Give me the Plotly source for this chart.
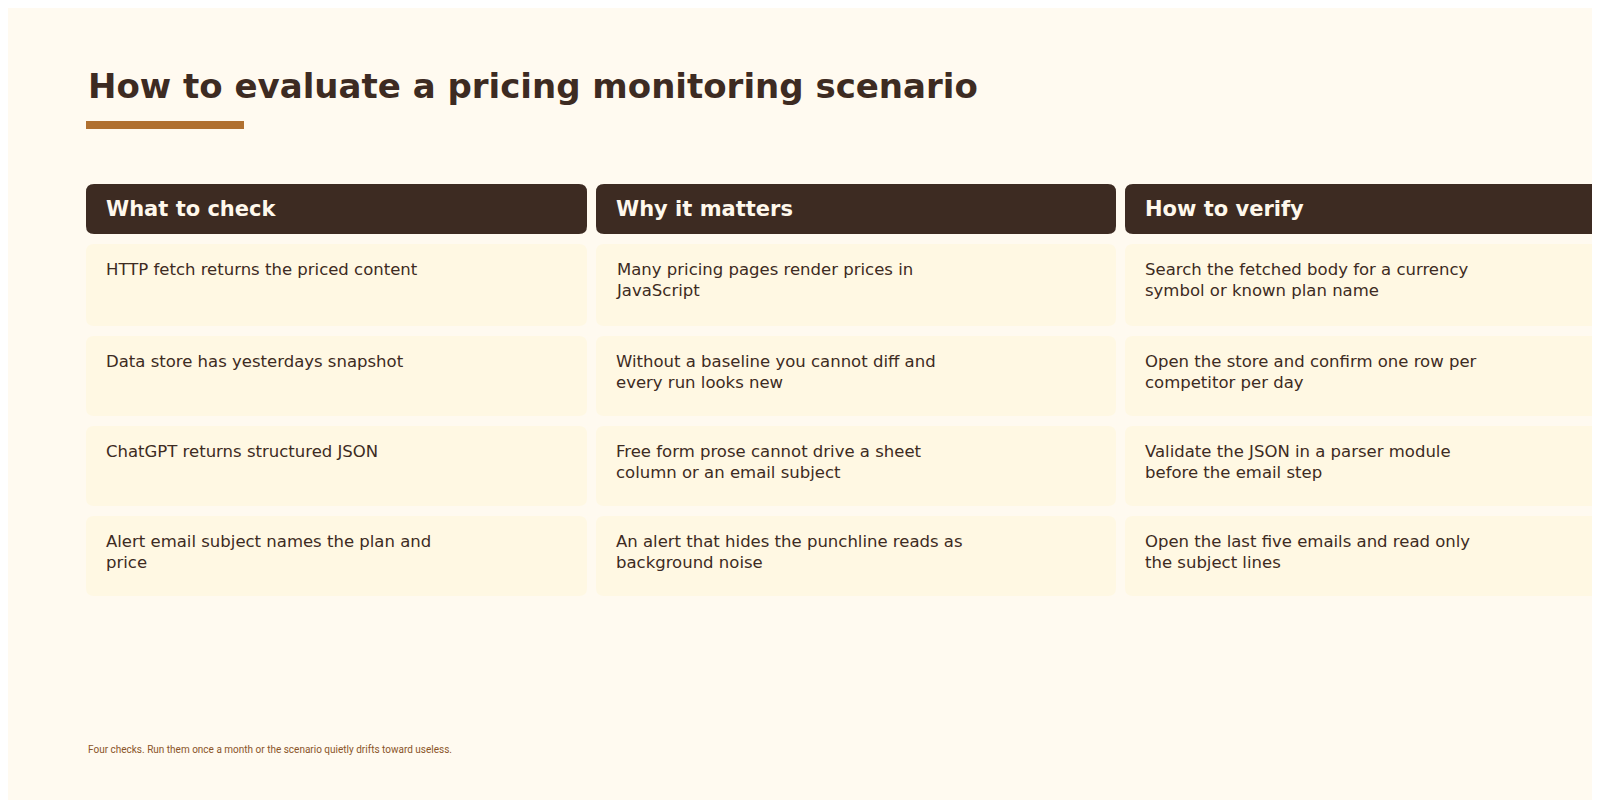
import plotly.graph_objects as go

title = "How to evaluate a pricing monitoring scenario"
headers = ["What to check", "Why it matters", "How to verify"]
col_what = ["HTTP fetch returns the priced content",
            "Data store has yesterdays snapshot",
            "ChatGPT returns structured JSON",
            "Alert email subject names the plan and<br>price"]
col_why = ["Many pricing pages render prices in<br>JavaScript",
           "Without a baseline you cannot diff and<br>every run looks new",
           "Free form prose cannot drive a sheet<br>column or an email subject",
           "An alert that hides the punchline reads as<br>background noise"]
col_how = ["Search the fetched body for a currency<br>symbol or known plan name",
           "Open the store and confirm one row per<br>competitor per day",
           "Validate the JSON in a parser module<br>before the email step",
           "Open the last five emails and read only<br>the subject lines"]
footnote = "Four checks. Run them once a month or the scenario quietly drifts toward useless."

cols_x = [(78, 579), (588, 1108), (1117, 1650)]
header_y = (176, 226)
rows_y = [(236, 318), (328, 408), (418, 498), (508, 588)]

def rrect(x0, y0, x1, y1, r):
    return (f"M{x0+r},{y0} L{x1-r},{y0} Q{x1},{y0} {x1},{y0+r} L{x1},{y1-r} Q{x1},{y1} {x1-r},{y1} "
            f"L{x0+r},{y1} Q{x0},{y1} {x0},{y1-r} L{x0},{y0+r} Q{x0},{y0} {x0+r},{y0} Z")

fig = go.Figure()
shapes, anns = [], []
shapes.append(dict(type="rect", xref="x", yref="y", x0=78, x1=236, y0=113, y1=121,
                   fillcolor="#b07030", line_width=0))
anns.append(dict(x=78, y=78, xref="x", yref="y", text=f"<b>{title}</b>", showarrow=False,
                 xanchor="left", yanchor="middle",
                 font=dict(family="DejaVu Sans", size=34, color="#3d2b22")))
columns = [col_what, col_why, col_how]
for (x0, x1), h, col in zip(cols_x, headers, columns):
    shapes.append(dict(type="path", xref="x", yref="y", path=rrect(x0, header_y[0], x1, header_y[1], 8),
                       fillcolor="#3d2b22", line_width=0))
    anns.append(dict(x=x0 + 18, y=(header_y[0] + header_y[1]) / 2, xref="x", yref="y",
                     text=f"<b>{h}</b>", showarrow=False, xanchor="left", yanchor="middle",
                     font=dict(family="DejaVu Sans", size=21, color="#fff8ec")))
    for (y0, y1), t in zip(rows_y, col):
        shapes.append(dict(type="path", xref="x", yref="y", path=rrect(x0, y0, x1, y1, 8),
                           fillcolor="#fff8e3", line_width=0))
        anns.append(dict(x=x0 + 18, y=y0 + 14, xref="x", yref="y", text=t, showarrow=False,
                         xanchor="left", yanchor="top", align="left",
                         font=dict(family="DejaVu Sans", size=16.5, color="#3d2b22")))
anns.append(dict(x=78, y=741, xref="x", yref="y", text=footnote, showarrow=False,
                 xanchor="left", yanchor="middle",
                 font=dict(family="Roboto", size=10, color="#8a5428")))

fig.update_layout(width=1600, height=800, margin=dict(l=0, r=0, t=0, b=0),
                  paper_bgcolor="#fffaf0", plot_bgcolor="#fffaf0",
                  shapes=shapes, annotations=anns, showlegend=False,
                  xaxis=dict(range=[0, 1600], visible=False, fixedrange=True),
                  yaxis=dict(range=[800, 0], visible=False, fixedrange=True))
fig.write_html("out.html")
